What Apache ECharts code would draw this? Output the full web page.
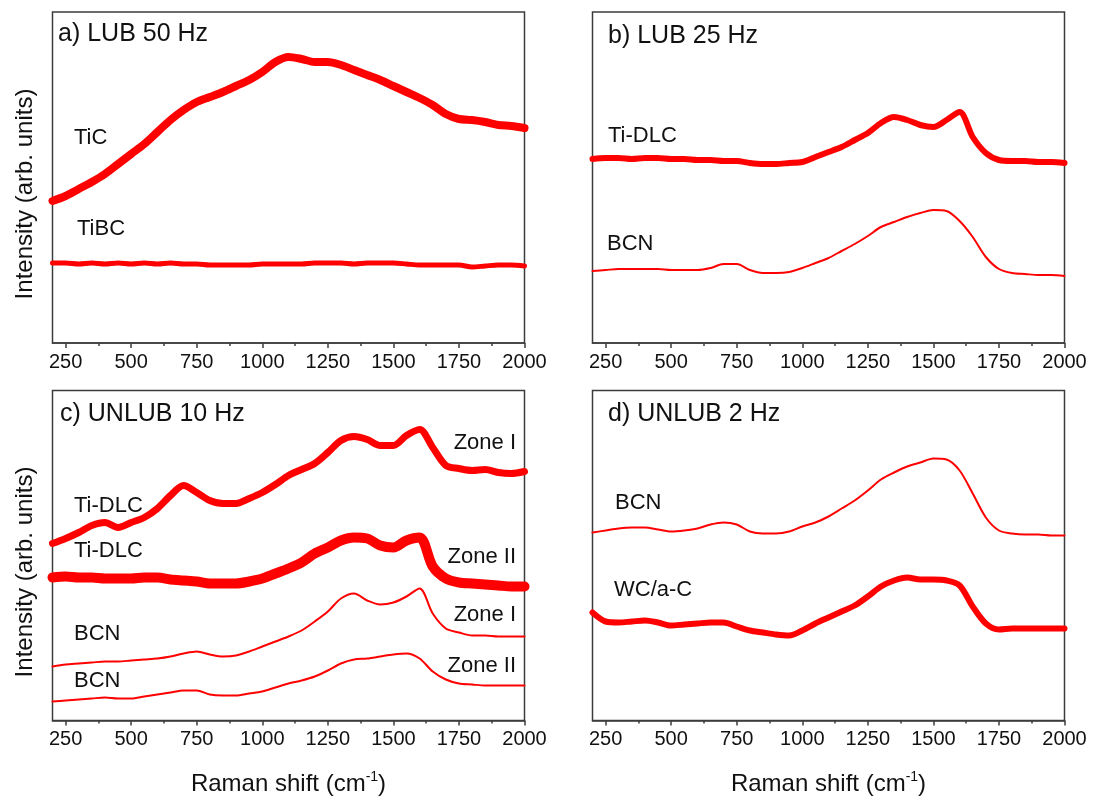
<!DOCTYPE html>
<html>
<head>
<meta charset="utf-8">
<title>Raman spectra</title>
<script src="https://cdn.jsdelivr.net/npm/echarts@6/dist/echarts.min.js"></script>
<style>
  html, body { margin: 0; padding: 0; background: #fff; }
  #chart { width: 1094px; height: 800px; }
</style>
</head>
<body>
<div id="chart"></div>
<script>
const shift = [200, 250, 300, 350, 400, 450, 500, 550, 600, 650, 700, 750, 800, 850, 900, 950,
  1000, 1050, 1100, 1150, 1200, 1250, 1300, 1350, 1400, 1450, 1500, 1550, 1600, 1650, 1700,
  1750, 1800, 1850, 1900, 1950, 2000]
const majorTicks = [250, 500, 750, 1000, 1250, 1500, 1750, 2000]
const minorTicks = [375, 625, 875, 1125, 1375, 1625, 1875]

// a) LUB 50 Hz
const tiC = [142, 147, 154, 161, 169, 179, 189, 199, 211, 223, 233, 241, 246, 251, 257, 263,
  271, 281, 286, 284, 281, 281, 278, 273, 268, 263, 257, 251, 245, 238, 229,
  224, 223, 221, 218, 217, 215]
const tiBC = [80, 80, 79, 80, 79, 80, 79, 80, 79, 80, 79, 79, 78, 78, 78, 78,
  79, 79, 79, 79, 80, 80, 80, 79, 80, 80, 80, 79, 78, 78, 78,
  78, 76, 77, 78, 78, 77]

// b) LUB 25 Hz
const tiDlcB = [184, 185, 185, 184, 185, 185, 184, 184, 183, 183, 182, 182, 180, 179, 179, 180,
  181, 186, 191, 196, 203, 210, 220, 226, 223, 218, 216, 223, 231, 206, 190,
  183, 182, 182, 181, 181, 180]
const bcnB = [72, 73, 74, 74, 74, 74, 73, 73, 73, 75, 79, 79, 73, 70, 70, 71,
  75, 80, 85, 92, 99, 107, 116, 121, 126, 130, 133, 132, 122, 106, 86,
  74, 70, 69, 68, 68, 67]

// c) UNLUB 10 Hz
const tiDlcZone1 = [177, 182, 188, 195, 198, 193, 198, 203, 212, 225, 235, 228, 220, 217, 217, 222,
  228, 236, 245, 251, 257, 268, 280, 284, 281, 275, 275, 285, 291, 273, 255,
  252, 250, 251, 248, 247, 249]
const tiDlcZone2 = [143, 144, 143, 143, 142, 142, 142, 143, 143, 141, 140, 139, 137, 137, 137, 139,
  142, 147, 152, 158, 167, 173, 180, 183, 182, 175, 173, 180, 183, 154, 142,
  138, 137, 136, 135, 134, 134]
const bcnZone1 = [54, 56, 57, 58, 59, 59, 60, 61, 62, 64, 67, 69, 66, 64, 65, 69,
  74, 79, 84, 90, 99, 109, 122, 127, 120, 116, 118, 124, 132, 107, 92,
  88, 85, 85, 84, 84, 84]
const bcnZone2 = [19, 20, 21, 22, 23, 22, 22, 24, 26, 28, 30, 30, 26, 25, 25, 27,
  29, 33, 37, 40, 44, 50, 57, 61, 62, 64, 66, 67, 62, 49, 41,
  37, 36, 35, 35, 35, 35]

// d) UNLUB 2 Hz
const bcnD = [188, 190, 192, 193, 193, 191, 189, 190, 192, 196, 198, 196, 189, 187, 187, 189,
  194, 198, 204, 212, 220, 230, 241, 248, 254, 258, 262, 261, 250, 227, 203,
  190, 187, 186, 186, 185, 185]
const wcAC = [108, 99, 98, 99, 100, 98, 95, 96, 97, 98, 98, 94, 90, 88, 86, 85,
  90, 97, 103, 109, 115, 124, 134, 140, 143, 141, 141, 140, 135, 114, 97,
  91, 92, 92, 92, 92, 92]

const red = '#ff0000'
const ink = '#111111'
const axisColor = '#3c3c3c'
const font = '"Liberation Sans", Arial, sans-serif'

const panels = [
  { left: 52.5, top: 12, width: 472, height: 331 },
  { left: 592.5, top: 12, width: 472, height: 331 },
  { left: 52.5, top: 390.5, width: 472, height: 330 },
  { left: 592.5, top: 390.5, width: 472, height: 330 }
]

function pairs(values) {
  return shift.map((x, i) => [x, values[i]])
}

function spectrum(i, values, width) {
  return {
    type: 'line',
    xAxisIndex: i,
    yAxisIndex: i,
    data: pairs(values),
    showSymbol: false,
    smooth: 0.3,
    silent: true,
    animation: false,
    lineStyle: { color: red, width: width, join: 'round', cap: 'round' }
  }
}

const ramanName = '{n|Raman shift (cm}{s|-1}{n|)}'
const nameRich = {
  n: { fontSize: 24, fontFamily: font, color: ink, lineHeight: 28 },
  s: { fontSize: 14, fontFamily: font, color: ink, verticalAlign: 'top', lineHeight: 14 }
}

// panels 0-3 carry the spectra and major ticks, 4-7 sit on top with the minor ticks only
const grids = panels.map(p => Object.assign({ show: true, borderColor: axisColor, borderWidth: 1.5, backgroundColor: 'transparent' }, p))
  .concat(panels.map(p => Object.assign({ show: false }, p)))

const xAxes = panels.map((p, i) => ({
  type: 'value',
  gridIndex: i,
  position: 'bottom',
  min: 200,
  max: 2000,
  axisLine: { show: true, lineStyle: { color: axisColor, width: 1.5 } },
  axisTick: { show: true, customValues: majorTicks, length: 5, lineStyle: { color: axisColor, width: 1.5 } },
  axisLabel: {
    show: true,
    customValues: majorTicks,
    margin: 9,
    fontSize: 20,
    color: ink,
    fontFamily: font,
    formatter: v => String(v)
  },
  splitLine: { show: false },
  name: i >= 2 ? ramanName : '',
  nameLocation: 'middle',
  nameGap: 50,
  nameTextStyle: { rich: nameRich }
})).concat(panels.map((p, i) => ({
  type: 'value',
  gridIndex: i + 4,
  position: 'bottom',
  min: 200,
  max: 2000,
  axisLine: { show: false },
  axisTick: { show: true, customValues: minorTicks, length: 3, lineStyle: { color: axisColor, width: 1.5 } },
  axisLabel: { show: false },
  splitLine: { show: false }
})))

const yAxes = grids.map((g, i) => ({
  type: 'value',
  gridIndex: i,
  min: 0,
  max: g.height,
  show: i < 4,
  axisLine: { show: false },
  axisTick: { show: false },
  axisLabel: { show: false },
  splitLine: { show: false }
}))

function label(text, x, y, size, align) {
  return {
    type: 'text',
    x: x,
    y: y,
    silent: true,
    style: { text: text, fontSize: size, fontFamily: font, fill: ink, align: align || 'left', verticalAlign: 'middle' }
  }
}

function yName(x, y) {
  return {
    type: 'text',
    x: x,
    y: y,
    rotation: Math.PI / 2,
    silent: true,
    style: { text: 'Intensity (arb. units)', fontSize: 24, fontFamily: font, fill: ink, align: 'center', verticalAlign: 'middle' }
  }
}

const texts = [
  label('a) LUB 50 Hz', 58, 34, 25),
  label('TiC', 74, 138, 22),
  label('TiBC', 77, 229, 22),
  label('b) LUB 25 Hz', 608, 36, 25),
  label('Ti-DLC', 608, 136, 22),
  label('BCN', 607, 244, 22),
  label('c) UNLUB 10 Hz', 60, 414, 25),
  label('Zone I', 516, 443, 22, 'right'),
  label('Ti-DLC', 74, 506, 22),
  label('Ti-DLC', 74, 551, 22),
  label('Zone II', 516, 557, 22, 'right'),
  label('Zone I', 516, 615, 22, 'right'),
  label('BCN', 74, 634, 22),
  label('Zone II', 516, 666, 22, 'right'),
  label('BCN', 74, 681, 22),
  label('d) UNLUB 2 Hz', 608, 414, 25),
  label('BCN', 615, 503, 22),
  label('WC/a-C', 614, 590, 22),
  yName(25, 194),
  yName(25, 572)
]

const chart = echarts.init(document.getElementById('chart'), null, { renderer: 'canvas' })
chart.setOption({
  backgroundColor: '#ffffff',
  animation: false,
  grid: grids,
  xAxis: xAxes,
  yAxis: yAxes,
  graphic: texts,
  series: [
    spectrum(0, tiC, 8),
    spectrum(0, tiBC, 5),
    spectrum(1, tiDlcB, 6),
    spectrum(1, bcnB, 2),
    spectrum(2, tiDlcZone1, 7),
    spectrum(2, tiDlcZone2, 10),
    spectrum(2, bcnZone1, 2),
    spectrum(2, bcnZone2, 2),
    spectrum(3, bcnD, 2),
    spectrum(3, wcAC, 6)
  ]
})
</script>
</body>
</html>
